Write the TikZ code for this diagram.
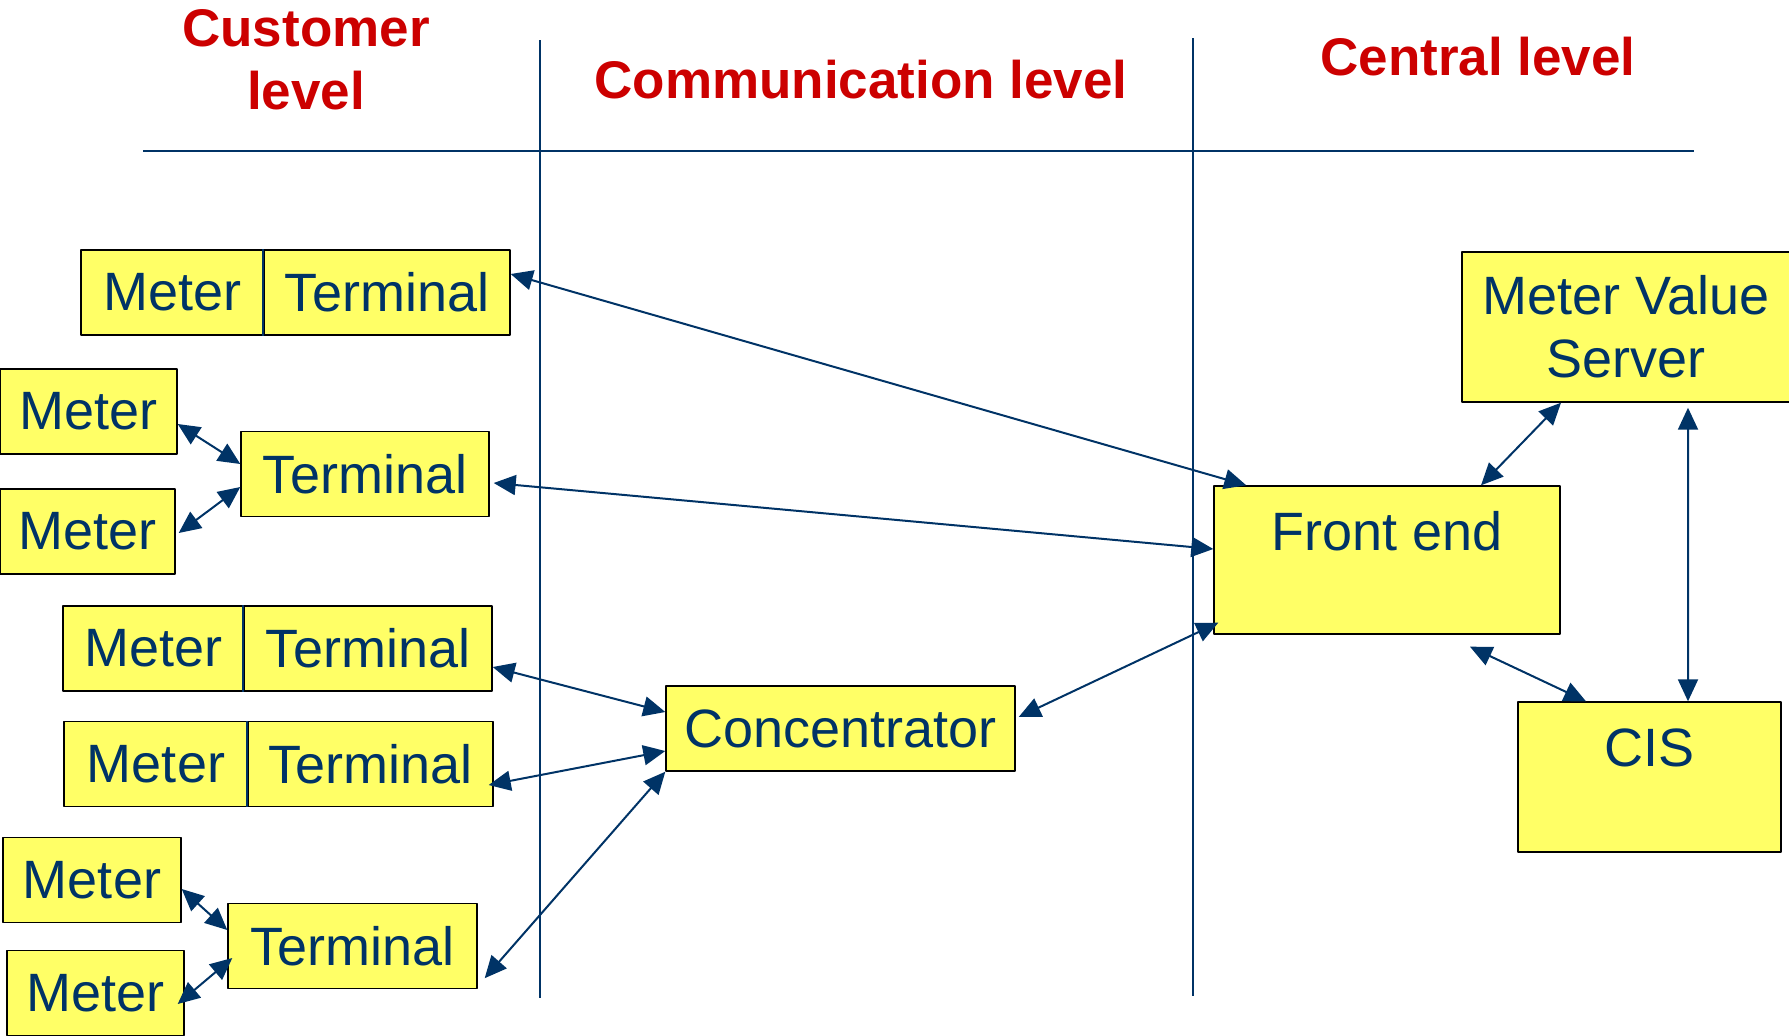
\documentclass[tikz,border=0pt]{standalone}
\usepackage{fontspec}
\setmainfont{Liberation Sans}
\usetikzlibrary{arrows.meta}
\definecolor{navy}{HTML}{003366}
\definecolor{boxyellow}{HTML}{FFFF66}
\definecolor{titlered}{HTML}{CC0000}
\begin{document}
\begin{tikzpicture}[x=1bp,y=-1bp,line join=bevel,
  box/.style={draw=black,line width=1.4bp,fill=boxyellow,text=navy,inner sep=0pt,
    minimum height=85bp,font=\fontsize{54bp}{63bp}\selectfont,align=center},
  title/.style={text=titlered,inner sep=0pt,align=center,
    font=\fontsize{53bp}{63bp}\selectfont\bfseries},
  rule/.style={navy,line width=1.6bp},
  link/.style={navy,line width=2bp,
    arrows={Triangle[length=22bp,width=20bp]-Triangle[length=22bp,width=20bp]}}]
\useasboundingbox (0,0) rectangle (1789,1035);
%%
\node (title_customer) at (306,59.5) [title] {Customer\\level};
  \node (title_comm) at (861,80) [title] {Communication level};
  \node (title_central) at (1478,57) [title] {Central level};
  \draw [rule] (143,151) -- (1694,151);
  \draw [rule] (540,40) -- (540,998);
  \draw [rule] (1193,38) -- (1193,996);
%%
\node (meter_1) at (172.5,292.5) [box,minimum width=183bp] {Meter};
  \node (term_1) at (387,292.5) [box,minimum width=246bp] {Terminal};
  \node (meter_a) at (88.5,411.5) [box,minimum width=177bp] {Meter};
  \node (term_a) at (365,474) [box,minimum width=248bp] {Terminal};
  \node (meter_b) at (87.5,531.5) [box,minimum width=175bp] {Meter};
  \node (meter_2) at (153.5,648.5) [box,minimum width=181bp] {Meter};
  \node (term_2) at (368,648.5) [box,minimum width=248bp] {Terminal};
  \node (meter_3) at (156,764) [box,minimum width=184bp] {Meter};
  \node (term_3) at (370.5,764) [box,minimum width=245bp] {Terminal};
  \node (meter_c) at (92,880) [box,minimum width=178bp] {Meter};
  \node (term_b) at (352.5,946) [box,minimum width=249bp] {Terminal};
  \node (meter_d) at (95.5,993) [box,minimum width=177bp] {Meter};
  \node (conc) at (840.5,728.5) [box,minimum width=349bp] {Concentrator};
  \node (front_end) at (1387,560) [box,minimum width=346bp,minimum height=148bp,
    text height=64bp,text depth=84bp] {Front end};
  \node (mv_server) at (1626,327) [box,minimum width=328bp,minimum height=150bp] {Meter Value\\Server};
  \node (cis) at (1649.5,777) [box,minimum width=263bp,minimum height=150bp,
    text height=64bp,text depth=86bp] {CIS};
  \draw [navy,line width=1.8bp] (term_1.north west) -- (term_1.south west);
  \draw [navy,line width=1.8bp] (term_2.north west) -- (term_2.south west);
  \draw [navy,line width=1.8bp] (term_3.north west) -- (term_3.south west);
%
\draw [link] ([yshift=18.5bp]term_1.east) -- ([xshift=33bp]front_end.north west);
  \draw [link] ([xshift=4bp,yshift=-9bp]term_a.east) -- ([yshift=11bp]front_end.west);
  \draw [link] ([yshift=-12.5bp]meter_a.east) -- ([yshift=10bp]term_a.west);
  \draw [link] ([xshift=3bp,yshift=-1.5bp]meter_b.east) -- ([yshift=-13bp]term_a.west);
  \draw [link] ([yshift=-18.5bp]term_2.east) -- ([yshift=16.5bp]conc.west);
  \draw [link] ([xshift=-5bp,yshift=-21bp]term_3.east) -- ([yshift=-22.5bp]conc.west);
  \draw [link] ([xshift=7bp,yshift=11bp]term_b.south east) -- (conc.south west);
  \draw [link] ([yshift=-9bp]meter_c.east) -- ([yshift=16bp]term_b.west);
  \draw [link] ([xshift=-7bp,yshift=-11bp]meter_d.east) -- ([xshift=5bp,yshift=-12bp]term_b.west);
  \draw [link] ([xshift=3bp,yshift=11.5bp]conc.east) -- ([xshift=5bp,yshift=12bp]front_end.south west);
  \draw [link] ([xshift=94bp]front_end.north) -- ([xshift=-65bp]mv_server.south);
  \draw [link] ([xshift=83bp,yshift=-12bp]front_end.south) -- ([xshift=-63.5bp]cis.north);
  \draw [link] ([xshift=38.5bp]cis.north) -- ([xshift=62bp,yshift=-5bp]mv_server.south);
%
\end{tikzpicture}
\end{document}
